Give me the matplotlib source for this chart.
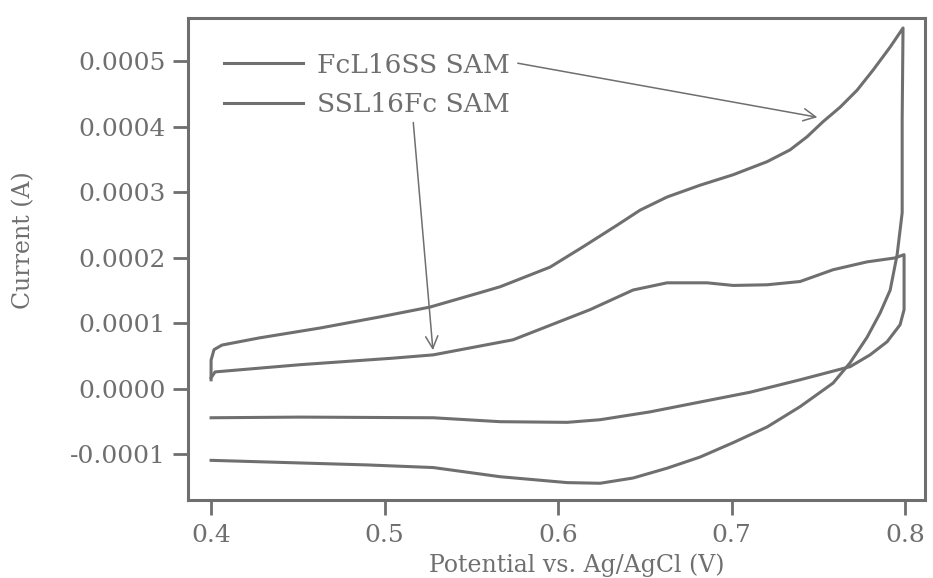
import matplotlib
matplotlib.use("Agg")
import matplotlib.pyplot as plt
import numpy as np
from matplotlib.ticker import FormatStrFormatter

# FcL16SS SAM (large loop) - forward then reverse sweep
fc_fwd_v = [0.400, 0.400, 0.4017, 0.4063, 0.428, 0.4628, 0.4974, 0.5262, 0.555, 0.5666,
            0.5954, 0.6144, 0.634, 0.6473, 0.6628, 0.6818, 0.7009, 0.7205, 0.7337, 0.7435,
            0.7527, 0.7625, 0.7723, 0.7816, 0.7914, 0.7988]
fc_fwd_i = [0.000014, 0.000044, 0.000060, 0.000067, 0.000078, 0.000093, 0.000110, 0.000125,
            0.000147, 0.000156, 0.000186, 0.000217, 0.000250, 0.000273, 0.000293, 0.000311,
            0.000327, 0.000347, 0.000365, 0.000385, 0.000408, 0.000430, 0.000456, 0.000487,
            0.000522, 0.000551]
fc_rev_v = [0.7988, 0.7983, 0.7983, 0.7954, 0.7914, 0.7856, 0.7781, 0.7683, 0.7585, 0.7395,
            0.7205, 0.7009, 0.6818, 0.6628, 0.6432, 0.6242, 0.6052, 0.5666, 0.528, 0.49,
            0.4513, 0.400]
fc_rev_i = [0.000551, 0.000411, 0.000269, 0.000205, 0.000151, 0.000116, 0.000079, 0.000040,
            0.000009, -0.000027, -0.000058, -0.000082, -0.000104, -0.000121, -0.000136,
            -0.000144, -0.000143, -0.000134, -0.000120, -0.000116, -0.000113, -0.000109]

# SSL16Fc SAM (small loop)
ss_fwd_v = [0.400, 0.4023, 0.4513, 0.5049, 0.528, 0.574, 0.6184, 0.6432, 0.6628, 0.6859,
            0.7009, 0.7205, 0.7395, 0.7585, 0.7781, 0.7942, 0.7994]
ss_fwd_i = [0.000017, 0.000026, 0.000037, 0.000047, 0.000052, 0.000075, 0.000121, 0.000151,
            0.000162, 0.000162, 0.000158, 0.000159, 0.000164, 0.000182, 0.000194, 0.000200,
            0.000205]
ss_rev_v = [0.7994, 0.7994, 0.7971, 0.7896, 0.7798, 0.7683, 0.7395, 0.7107, 0.6818, 0.653,
            0.6242, 0.6052, 0.5666, 0.528, 0.4513, 0.400]
ss_rev_i = [0.000205, 0.000121, 0.000098, 0.000072, 0.000052, 0.000034, 0.000014, -0.000005,
            -0.000020, -0.000035, -0.000047, -0.000051, -0.000050, -0.000044, -0.000043,
            -0.000044]

labels = ["FcL16SS SAM", "SSL16Fc SAM"]
xticks = [0.4, 0.5, 0.6, 0.7, 0.8]
yticks = [-0.0001, 0.0, 0.0001, 0.0002, 0.0003, 0.0004, 0.0005]

gray = "#6f6f6f"
plt.rcParams["font.family"] = ["DejaVu Serif"]
plt.rcParams["axes.unicode_minus"] = False

fig = plt.figure(figsize=(9.33, 5.78), dpi=100)
ax = fig.add_axes([0.2015, 0.135, 0.790, 0.834])

ax.plot(fc_fwd_v + fc_rev_v, fc_fwd_i + fc_rev_i, color=gray, lw=2.2, label=labels[0])
ax.plot(ss_fwd_v + ss_rev_v, ss_fwd_i + ss_rev_i, color=gray, lw=2.2, label=labels[1])

ax.set_xlim(0.3867, 0.8115)
ax.set_ylim(-0.0001695, 0.0005664)
ax.set_xticks(xticks)
ax.set_yticks(yticks)
ax.yaxis.set_major_formatter(FormatStrFormatter("%.4f"))
ax.xaxis.set_major_formatter(FormatStrFormatter("%.1f"))

for s in ax.spines.values():
    s.set_color(gray)
    s.set_linewidth(2.2)
ax.tick_params(axis="both", direction="out", length=11, width=2, color=gray,
               labelcolor=gray, labelsize=18)
ax.tick_params(axis="x", pad=6)
ax.tick_params(axis="y", pad=5)

ax.set_xlabel("Potential vs. Ag/AgCl (V)", fontsize=17, color=gray)
ax.set_ylabel("Current (A)", fontsize=17, color=gray)
ax.xaxis.set_label_coords(0.527, -0.112)
ax.yaxis.set_label_coords(-0.207, 0.539)

leg = ax.legend(loc="upper left", bbox_to_anchor=(0.034, 0.95), frameon=False,
                fontsize=19, handlelength=3.0, handletextpad=0.55, labelspacing=0.55,
                borderaxespad=0)
for t in leg.get_texts():
    t.set_color(gray)

arrow = dict(arrowstyle="->", color=gray, lw=1.1, mutation_scale=22)
ax.annotate("", xy=(0.751, 0.000414), xytext=(0.5752, 0.000498), arrowprops=arrow)
ax.annotate("", xy=(0.528, 0.000055), xytext=(0.5164, 0.000411), arrowprops=arrow)

fig.savefig("out.png", dpi=100, facecolor="white")
